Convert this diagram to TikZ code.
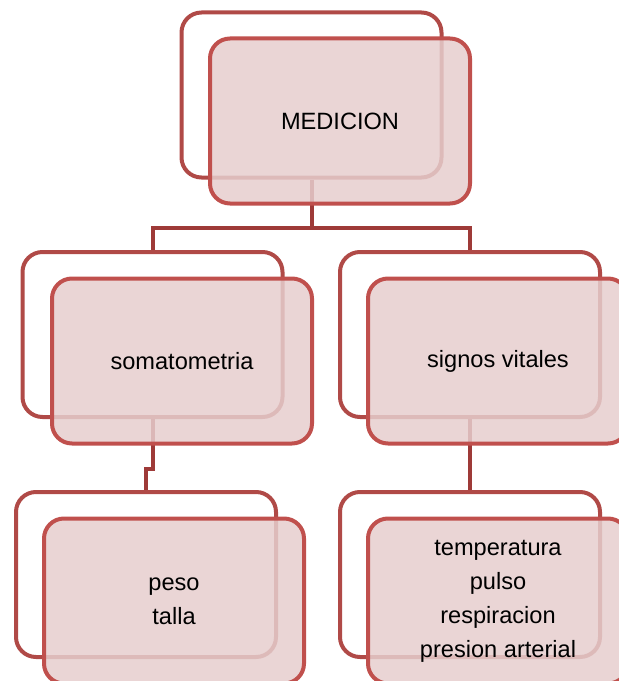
\documentclass[tikz,border=0pt]{standalone}
\usepackage{fontspec}
\setmainfont{Liberation Sans}
\definecolor{backred}{RGB}{176,74,71}
\definecolor{frontred}{RGB}{192,80,77}
\definecolor{linkred}{RGB}{158,58,56}
\definecolor{boxfill}{RGB}{230,206,206}

\begin{document}
\begin{tikzpicture}[x=0.75pt, y=-0.75pt,
  back/.style={draw=backred, line width=3pt, rounded corners=15pt,
    minimum width=195pt, minimum height=123.75pt},
  front/.style={draw=frontred, line width=3pt, rounded corners=15pt,
    fill=boxfill, fill opacity=0.85, text opacity=1,
    minimum width=195pt, minimum height=123.75pt, align=center,
    font=\fontsize{17.7}{25.5}\selectfont},
  link/.style={draw=linkred, line width=3pt}]
  \useasboundingbox (0,0) rectangle (618,681);

  % boxes behind
  \node [back] (mback) at (311.5,95) {};
  \node [back] (sback) at (152.5,334.5) {};
  \node [back] (vback) at (470,334.5) {};
  \node [back] (pback) at (146,574.5) {};
  \node [back] (tback) at (470,574.5) {};

  % links
  \path (311.5,228) coordinate (split);
  \draw [link] (mback.south) -- (split) -| (sback.north);
  \draw [link] (split) -| (vback.north);
  \draw [link] (sback.south) -- ++(0,50) -| (pback.north);
  \draw [link] (vback.south) -- (tback.north);

  % boxes in front
  \node [front] (med) at (340,121) {MEDICION};
  \node [front] (soma) at (182,361) {somatometria};
  \node [front] (signos) at (498,361) {signos vitales};
  \node [front] (peso) at (174,601) {peso\\talla};
  \node [front] (temp) at (498,601) {temperatura\\pulso\\respiracion\\presion arterial};

\end{tikzpicture}
\end{document}
